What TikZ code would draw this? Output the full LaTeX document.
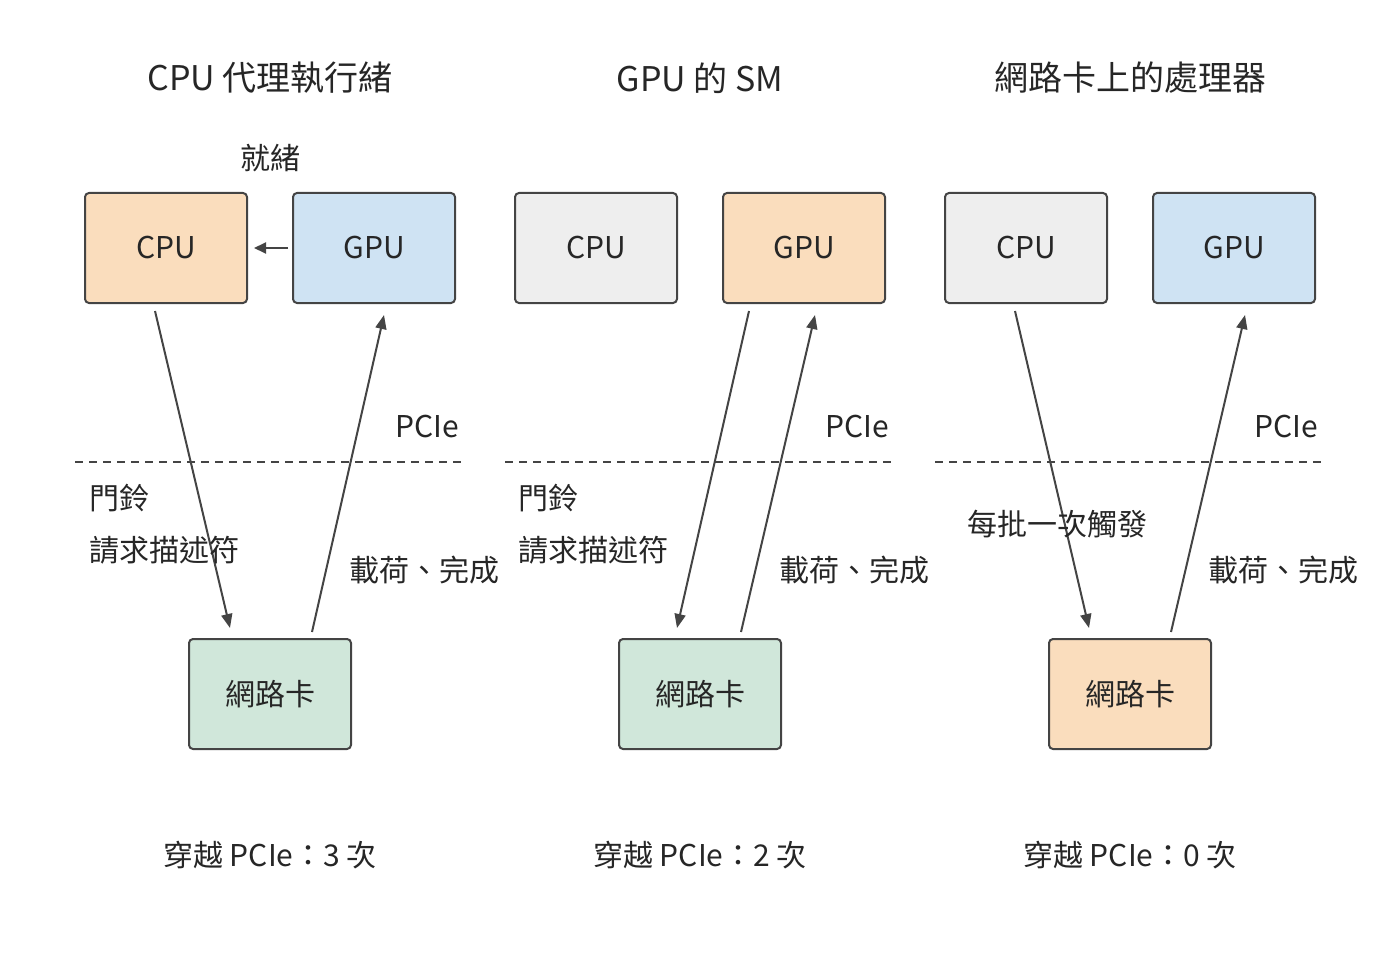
\documentclass[tikz,border=0pt]{standalone}
\usepackage{fontspec}
\setmainfont{Noto Sans CJK TC}
\usetikzlibrary{arrows.meta}
\definecolor{corange}{HTML}{FADDBD}
\definecolor{cblue}{HTML}{CFE3F3}
\definecolor{cgrey}{HTML}{EEEEEE}
\definecolor{cgreen}{HTML}{D0E7DA}
\definecolor{cline}{HTML}{444444}
\begin{document}
\begin{tikzpicture}[x=1pt,y=-1pt,
  box/.style={draw=cline,line width=2pt,rounded corners=4pt,minimum width=162pt,minimum height=110pt,font=\fontsize{30}{32}\selectfont,text=black!85},
  conn/.style={draw=cline,line width=2pt,-{Triangle[length=14pt,width=11pt]}},
  lbl/.style={font=\fontsize{30}{34}\selectfont,text=black!85},
  ttl/.style={font=\fontsize{34}{38}\selectfont,text=black!85},
  dsh/.style={draw=cline,line width=2pt,dash pattern=on 8pt off 6pt}]
\path[use as bounding box] (0,0) rectangle (1400,960);
% titles
\node[ttl] (t1) at (270,78) {CPU 代理執行緒};
\node[ttl] (t2) at (700,78) {GPU 的 SM};
\node[ttl] (t3) at (1130,78) {網路卡上的處理器};
% boxes
\node[box,fill=corange] (c1) at (166,248) {CPU};
\node[box,fill=cblue] (g1) at (374,248) {GPU};
\node[box,fill=cgrey] (c2) at (596,248) {CPU};
\node[box,fill=corange] (g2) at (804,248) {GPU};
\node[box,fill=cgrey] (c3) at (1026,248) {CPU};
\node[box,fill=cblue] (g3) at (1234,248) {GPU};
\node[box,fill=cgreen] (n1) at (270,694) {網路卡};
\node[box,fill=cgreen] (n2) at (700,694) {網路卡};
\node[box,fill=corange] (n3) at (1130,694) {網路卡};
% dashed lines
\coordinate (d1a) at (75,462); \coordinate (d1b) at (462,462);
\coordinate (d2a) at (505,462); \coordinate (d2b) at (892,462);
\coordinate (d3a) at (935,462); \coordinate (d3b) at (1322,462);
\draw[dsh] (d1a)--(d1b); \draw[dsh] (d2a)--(d2b); \draw[dsh] (d3a)--(d3b);
% connectors
\coordinate (a1s) at (155,311); \coordinate (a1e) at (230,628);
\coordinate (b1s) at (312,632); \coordinate (b1e) at (384,315);
\coordinate (a2s) at (749,311); \coordinate (a2e) at (677,628);
\coordinate (b2s) at (741,632); \coordinate (b2e) at (815,315);
\coordinate (a3s) at (1015,311); \coordinate (a3e) at (1089,628);
\coordinate (b3s) at (1171,632); \coordinate (b3e) at (1245,315);
\coordinate (rs) at (288,248); \coordinate (re) at (254,248);
\draw[conn] (a1s)--(a1e); \draw[conn] (b1s)--(b1e);
\draw[conn] (a2s)--(a2e); \draw[conn] (b2s)--(b2e);
\draw[conn] (a3s)--(a3e); \draw[conn] (b3s)--(b3e);
\draw[conn,-{Triangle[length=12pt,width=11pt]}] (rs)--(re);
% labels
\node[lbl] (rdy) at (270,158) {就緒};
\node[lbl] (p1) at (427,427) {PCIe};
\node[lbl] (p2) at (857,427) {PCIe};
\node[lbl] (p3) at (1286,427) {PCIe};
\node[lbl,anchor=west] (db1) at (86,498) {門鈴};
\node[lbl,anchor=west] (rq1) at (86,550) {請求描述符};
\node[lbl,anchor=west] (db2) at (515,498) {門鈴};
\node[lbl,anchor=west] (rq2) at (515,550) {請求描述符};
\node[lbl,anchor=west] (pl1) at (346,570) {載荷、完成};
\node[lbl,anchor=west] (pl2) at (776,570) {載荷、完成};
\node[lbl,anchor=west] (pl3) at (1205,570) {載荷、完成};
\node[lbl] (bt) at (1057,524) {每批一次觸發};
\node[lbl] (s1) at (270,855) {穿越 PCIe：3 次};
\node[lbl] (s2) at (700,855) {穿越 PCIe：2 次};
\node[lbl] (s3) at (1130,855) {穿越 PCIe：0 次};
\end{tikzpicture}
\end{document}
